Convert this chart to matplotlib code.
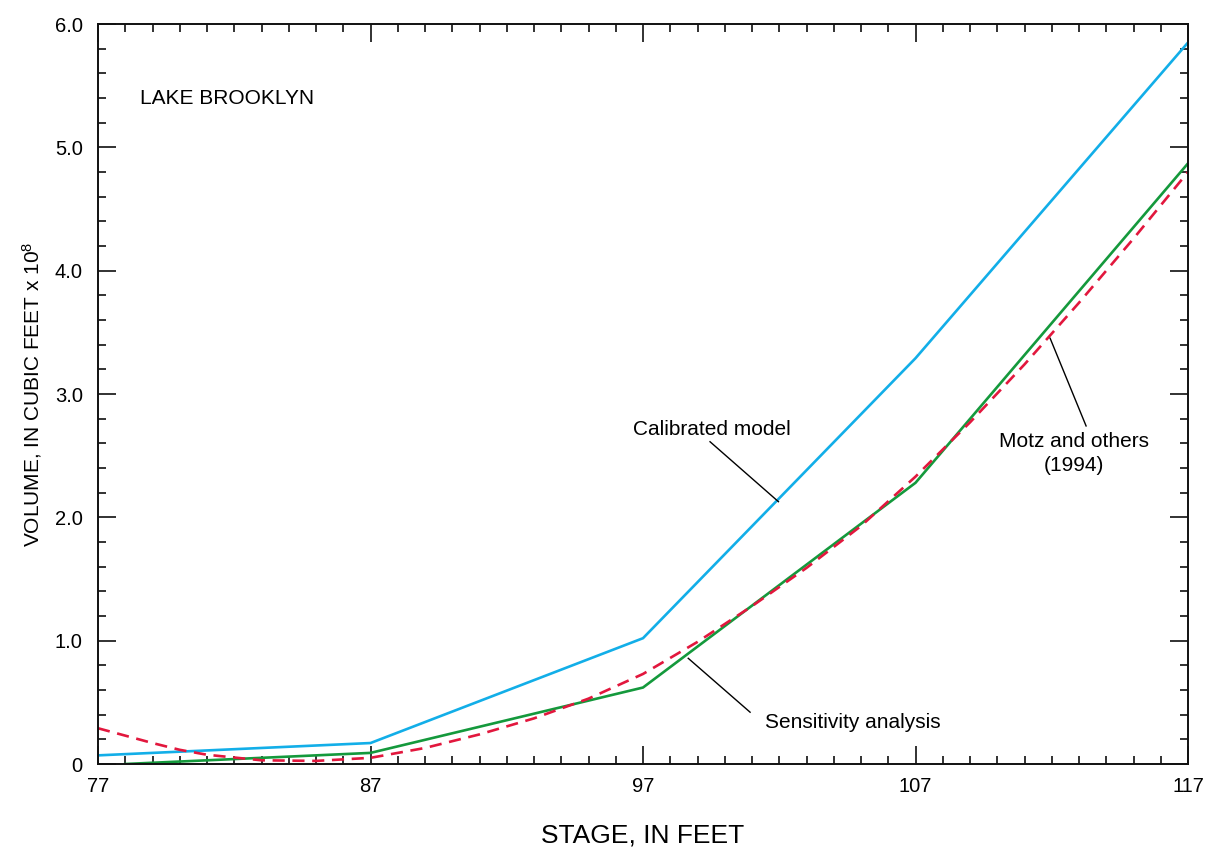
import matplotlib
matplotlib.use("Agg")
import matplotlib.pyplot as plt
from matplotlib.ticker import MultipleLocator, FixedLocator

plt.rcParams['font.family'] = ['Liberation Sans', 'DejaVu Sans']
plt.rcParams['mathtext.default'] = 'regular'

# Data
calib_stage = [77, 87, 97, 107, 117]
calib_vol = [0.07, 0.17, 1.02, 3.29, 5.85]

sens_stage = [78, 87, 97, 107, 117]
sens_vol = [0.0, 0.09, 0.62, 2.28, 4.87]

motz_stage = [77, 79, 80, 81, 83, 85, 87, 89, 91, 93, 95, 97, 99, 101, 103, 105,
              107, 109, 111, 113, 115, 117]
motz_vol = [0.29, 0.17, 0.115, 0.075, 0.03, 0.025, 0.05, 0.13, 0.24, 0.37, 0.53,
            0.73, 0.99, 1.28, 1.59, 1.93, 2.33, 2.77, 3.24, 3.74, 4.26, 4.80]

x_major = [77, 87, 97, 107, 117]
y_major = [0, 1, 2, 3, 4, 5, 6]
y_labels = ['0', '1.0', '2.0', '3.0', '4.0', '5.0', '6.0']

blue = '#12AEE8'
green = '#14993C'
red = '#E2173D'

fig = plt.figure(figsize=(12.06, 8.48), dpi=100)
ax = fig.add_axes([98/1206, 1-764/848, (1188-98)/1206, (764-24)/848])

ax.plot(calib_stage, calib_vol, color=blue, lw=1.9)
ax.plot(sens_stage, sens_vol, color=green, lw=1.9)
ax.plot(motz_stage, motz_vol, color=red, lw=1.9, dashes=(4.6, 2.9))

ax.set_xlim(77, 117)
ax.set_ylim(0, 6.0)
ax.xaxis.set_major_locator(FixedLocator(x_major))
ax.xaxis.set_minor_locator(MultipleLocator(1))
ax.yaxis.set_major_locator(FixedLocator(y_major))
ax.yaxis.set_minor_locator(MultipleLocator(0.2))
ax.set_xticklabels([str(v) for v in x_major])
ax.set_yticklabels(y_labels)

ax.tick_params(which='both', direction='in', top=True, right=True, color='#222222', width=1.3)
ax.tick_params(which='major', length=13, labelsize=14.5)
ax.tick_params(which='minor', length=6)
ax.tick_params(axis='x', which='major', pad=9)
ax.tick_params(axis='y', which='major', pad=11)
for s in ax.spines.values():
    s.set_linewidth(1.4)
    s.set_color('#111111')

ax.set_xlabel('STAGE, IN FEET', fontsize=19, labelpad=20)
ax.set_ylabel(r'VOLUME, IN CUBIC FEET x 10$^{8}$', fontsize=15, labelpad=8)

ax.text(78.54, 5.40, 'LAKE BROOKLYN', fontsize=15, ha='left', va='center')

ax.text(99.51, 2.716, 'Calibrated model', fontsize=15, ha='center', va='center')
ax.plot([99.46, 101.97], [2.613, 2.127], color='black', lw=1.0)

ax.text(101.48, 0.34, 'Sensitivity analysis', fontsize=15, ha='left', va='center')
ax.plot([98.66, 100.93], [0.857, 0.42], color='black', lw=1.0)

ax.text(112.82, 2.518, 'Motz and others\n(1994)', fontsize=15, ha='center', va='center',
        linespacing=1.38)
ax.plot([111.94, 113.26], [3.452, 2.741], color='black', lw=1.0)

fig.savefig('out.png', dpi=100)
